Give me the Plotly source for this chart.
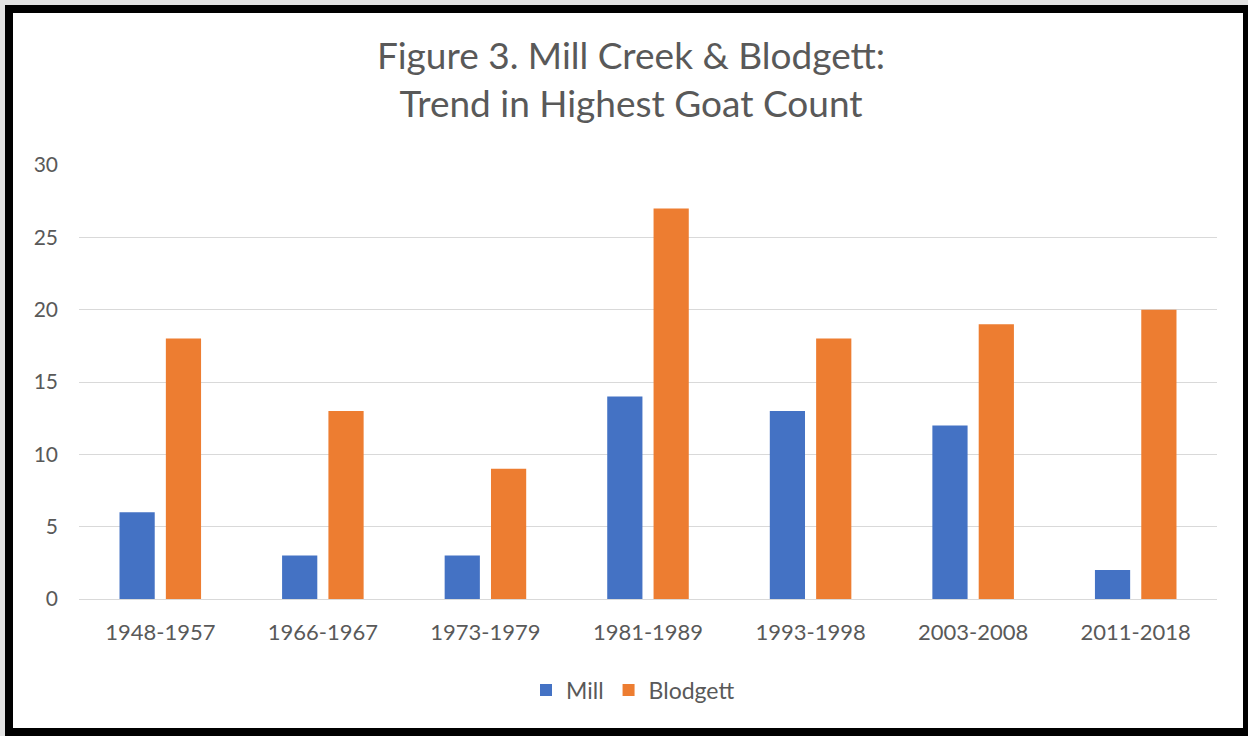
import plotly.graph_objects as go

# Survey periods and the highest goat count recorded in each
periods = ["1948-1957", "1966-1967", "1973-1979", "1981-1989",
           "1993-1998", "2003-2008", "2011-2018"]
mill_counts = [6, 3, 3, 14, 13, 12, 2]
blodgett_counts = [18, 13, 9, 27, 18, 19, 20]
y_ticks = [0, 5, 10, 15, 20, 25, 30]

W, H = 1248, 736
L, R, T, B = 79, 31, 165, 137
PW, PH = W - L - R, H - T - B


def px_x(x):
    return (x - L) / PW


def px_y(y):
    return (H - B - y) / PH


TEXT = "#595959"
FONT = "Lato"

fig = go.Figure()
fig.add_trace(go.Bar(name="Mill", x=periods, y=mill_counts,
                     marker_color="#4472C4", marker_line_width=0))
fig.add_trace(go.Bar(name="Blodgett", x=periods, y=blodgett_counts,
                     marker_color="#ED7D31", marker_line_width=0))

# Picture frame: light grey edge, thick black border, white card
shapes = [
    dict(type="rect", xref="paper", yref="paper", layer="below",
         x0=px_x(0), x1=px_x(W), y0=px_y(0), y1=px_y(5),
         fillcolor="#e2e2e2", line_width=0),
    dict(type="rect", xref="paper", yref="paper", layer="below",
         x0=px_x(0), x1=px_x(5), y0=px_y(0), y1=px_y(H),
         fillcolor="#e2e2e2", line_width=0),
    dict(type="rect", xref="paper", yref="paper", layer="below",
         x0=px_x(13), x1=px_x(1243), y0=px_y(13), y1=px_y(728),
         fillcolor="white", line_width=0),
]

fig.update_layout(
    width=W, height=H,
    margin=dict(l=L, r=R, t=T, b=B, pad=0),
    paper_bgcolor="black",
    plot_bgcolor="rgba(0,0,0,0)",
    shapes=shapes,
    barmode="group",
    bargap=0.43,
    bargroupgap=0.24,
    font=dict(family=FONT, color=TEXT),
    title=dict(
        text="Figure 3. Mill Creek &amp; Blodgett:<br>Trend in Highest Goat Count",
        x=631 / W, xref="container", xanchor="center",
        y=1 - 69 / H, yref="container", yanchor="top",
        font=dict(family=FONT, size=37, color=TEXT),
    ),
    legend=dict(
        orientation="h", x=px_x(633), xanchor="center",
        y=px_y(690), yanchor="middle",
        font=dict(family=FONT, size=23, color=TEXT),
        bgcolor="rgba(0,0,0,0)",
        itemclick=False,
    ),
    hovermode=False,
    showlegend=True,
)

fig.update_xaxes(
    showgrid=False, showline=True, linecolor="#D9D9D9", linewidth=1,
    ticks="", tickfont=dict(family=FONT, size=22, color=TEXT),
    ticklabelstandoff=14,
)
fig.update_yaxes(
    range=[0, 30], tickvals=y_ticks,
    showgrid=True, gridcolor="#D9D9D9", gridwidth=1,
    zeroline=False, showline=False, ticks="",
    tickfont=dict(family=FONT, size=21, color=TEXT),
    ticklabelstandoff=20,
)

fig.write_html("out.html")
